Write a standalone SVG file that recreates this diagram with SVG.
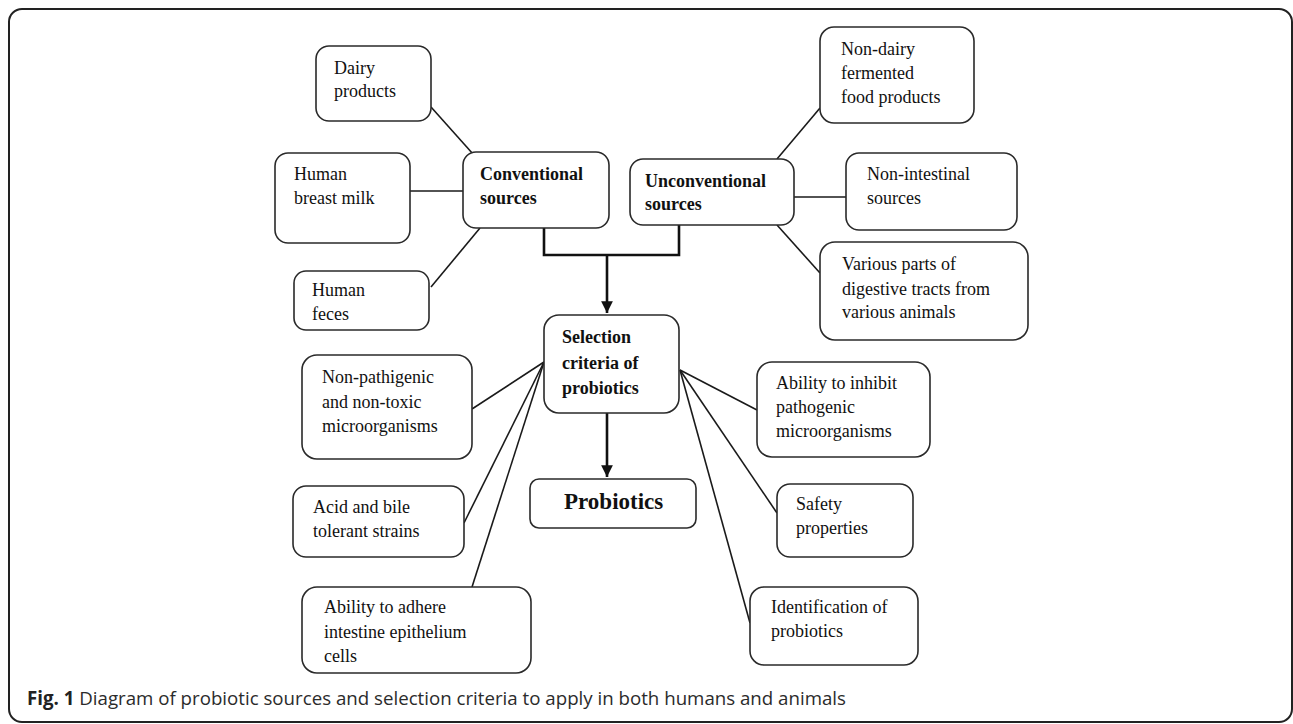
<svg xmlns="http://www.w3.org/2000/svg" width="1293" height="724" viewBox="0 0 1293 724">
<defs>
<style>
.box{fill:#fff;stroke:#2a2a2a;stroke-width:1.6}
.t{font-family:"Liberation Serif","Times New Roman",serif;font-size:18px;fill:#111}
.b{font-weight:bold}
.ln{stroke:#1a1a1a;stroke-width:1.6;fill:none}
.th{stroke:#111;stroke-width:2.6;fill:none}
.cap{font-family:"Open Sans","Liberation Sans",sans-serif;font-size:19px;fill:#2b2b2b}
</style>
<marker id="ah" viewBox="0 0 10 10" refX="10" refY="5" markerWidth="4.5" markerHeight="5" markerUnits="strokeWidth" orient="auto">
<path d="M0,0 L10,5 L0,10 z" fill="#111"/>
</marker>
</defs>
<rect x="9" y="9" width="1283" height="713" rx="13" fill="#fff" stroke="#222" stroke-width="2"/>
<g id="connectors">
<line class="ln" x1="431" y1="107" x2="473" y2="154"/>
<line class="ln" x1="410" y1="191" x2="463" y2="191"/>
<line class="ln" x1="431" y1="287" x2="480" y2="228"/>
<line class="ln" x1="777" y1="159" x2="820" y2="108"/>
<line class="ln" x1="794" y1="197" x2="846" y2="197"/>
<line class="ln" x1="777" y1="225" x2="820" y2="273"/>
<polyline class="th" points="544,228 544,255 679,255 679,225"/>
<line class="th" x1="607" y1="255" x2="607" y2="313" marker-end="url(#ah)"/>
<line class="th" x1="607" y1="413" x2="607" y2="477" marker-end="url(#ah)"/>
<line class="ln" x1="544" y1="362" x2="472" y2="409"/>
<line class="ln" x1="544" y1="362" x2="464" y2="523"/>
<line class="ln" x1="544" y1="362" x2="472" y2="587"/>
<line class="ln" x1="680" y1="370" x2="757" y2="410"/>
<line class="ln" x1="680" y1="370" x2="777" y2="513"/>
<line class="ln" x1="680" y1="370" x2="750" y2="623"/>
</g>
<g id="dairy"><rect class="box" x="316" y="46" width="115" height="75" rx="13"/><text class="t" x="334" y="74">Dairy</text><text class="t" x="334" y="97">products</text></g>
<g id="breastmilk"><rect class="box" x="275" y="153" width="135" height="90" rx="13"/><text class="t" x="294" y="180">Human</text><text class="t" x="294" y="204">breast milk</text></g>
<g id="conventional"><rect class="box" x="463" y="152" width="146" height="76" rx="13"/><text class="t b" x="480" y="180">Conventional</text><text class="t b" x="480" y="204">sources</text></g>
<g id="feces"><rect class="box" x="294" y="271" width="135" height="59" rx="12"/><text class="t" x="312" y="296">Human</text><text class="t" x="312" y="320">feces</text></g>
<g id="unconventional"><rect class="box" x="630" y="159" width="164" height="66" rx="13"/><text class="t b" x="645" y="187">Unconventional</text><text class="t b" x="645" y="210">sources</text></g>
<g id="nondairy"><rect class="box" x="820" y="27" width="154" height="96" rx="14"/><text class="t" x="841" y="55">Non-dairy</text><text class="t" x="841" y="79">fermented</text><text class="t" x="841" y="103">food products</text></g>
<g id="nonintestinal"><rect class="box" x="846" y="153" width="171" height="77" rx="13"/><text class="t" x="867" y="180">Non-intestinal</text><text class="t" x="867" y="204">sources</text></g>
<g id="various"><rect class="box" x="820" y="242" width="208" height="98" rx="15"/><text class="t" x="842" y="270">Various parts of</text><text class="t" x="842" y="295">digestive tracts from</text><text class="t" x="842" y="318">various animals</text></g>
<g id="selection"><rect class="box" x="544" y="315" width="135" height="98" rx="15"/><text class="t b" x="562" y="343">Selection</text><text class="t b" x="562" y="369">criteria of</text><text class="t b" x="562" y="394">probiotics</text></g>
<g id="nonpathogenic"><rect class="box" x="302" y="355" width="170" height="104" rx="15"/><text class="t" x="322" y="383">Non-pathigenic</text><text class="t" x="322" y="408">and non-toxic</text><text class="t" x="322" y="432">microorganisms</text></g>
<g id="probiotics"><rect class="box" x="530" y="479" width="166" height="49" rx="9"/><text class="t b" x="564" y="509" style="font-size:23px">Probiotics</text></g>
<g id="acid"><rect class="box" x="293" y="486" width="171" height="71" rx="13"/><text class="t" x="313" y="513">Acid and bile</text><text class="t" x="313" y="537">tolerant strains</text></g>
<g id="adhere"><rect class="box" x="302" y="587" width="229" height="86" rx="15"/><text class="t" x="324" y="613">Ability to adhere</text><text class="t" x="324" y="638">intestine epithelium</text><text class="t" x="324" y="662">cells</text></g>
<g id="inhibit"><rect class="box" x="757" y="362" width="173" height="95" rx="15"/><text class="t" x="776" y="389">Ability to inhibit</text><text class="t" x="776" y="413">pathogenic</text><text class="t" x="776" y="437">microorganisms</text></g>
<g id="safety"><rect class="box" x="777" y="484" width="136" height="73" rx="13"/><text class="t" x="796" y="510">Safety</text><text class="t" x="796" y="534">properties</text></g>
<g id="identification"><rect class="box" x="750" y="587" width="168" height="78" rx="14"/><text class="t" x="771" y="613">Identification of</text><text class="t" x="771" y="637">probiotics</text></g>
<text class="cap" x="27" y="705" textLength="819" lengthAdjust="spacingAndGlyphs"><tspan font-weight="bold" fill="#222">Fig. 1</tspan> Diagram of probiotic sources and selection criteria to apply in both humans and animals</text>
</svg>
